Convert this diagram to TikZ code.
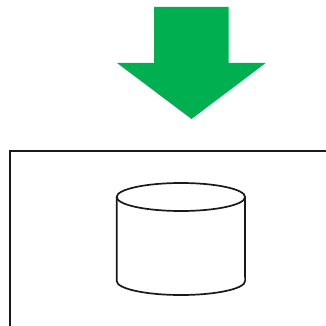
\documentclass[tikz,border=0pt]{standalone}
\tikzset{
  outline/.style={draw=black!90, line width=2pt},
  cyl/.style={draw=black!90, line width=1.7pt},
}
\definecolor{arrowgreen}{RGB}{0,176,80}
\begin{document}
\begin{tikzpicture}[x=1pt,y=-1pt]
\useasboundingbox (0,0) rectangle (326,326);
\fill[arrowgreen] (154,7) -- (228.7,7) -- (228.7,63) -- (265.7,63) -- (191.5,119) -- (117,63) -- (154,63) -- cycle;
\draw[outline] (10,340) -- (10,151) -- (340,151);
\draw[cyl] (116.7,197) -- (116.7,281) arc[x radius=64.2,y radius=14,start angle=180,end angle=0] -- (245,197);
\draw[cyl] (180.9,197) ellipse[x radius=64.2,y radius=14];
\end{tikzpicture}
\end{document}
